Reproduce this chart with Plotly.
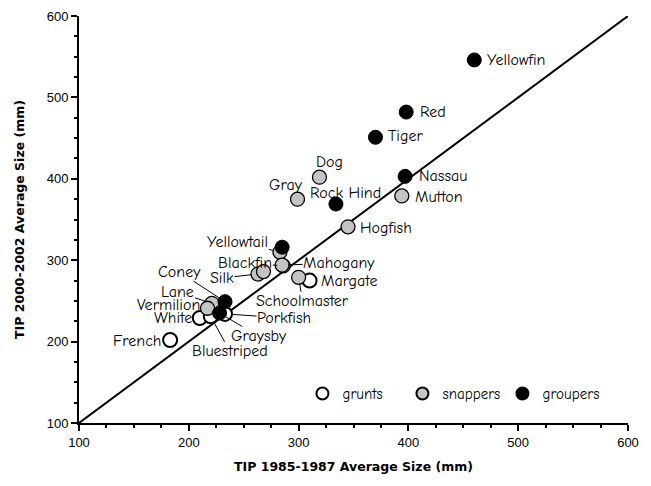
import plotly.graph_objects as go

# --- data (mm) ---
GRUNT_NAMES = ["French", "White", "Bluestriped", "Porkfish", "Margate"]
GRUNT_X = [183, 210, 220, 233, 310]
GRUNT_Y = [202, 229, 231, 234, 275]

SNAPPER_NAMES = ["Gray", "Dog", "Mutton", "Hogfish", "Yellowtail", "Blackfin", "Mahogany",
                 "Silk", "", "Schoolmaster", "Lane", "Vermilion"]
SNAPPER_X = [299, 319, 394, 345, 283, 286, 285, 263, 268, 300, 221, 217]
SNAPPER_Y = [375, 402, 379, 341, 310, 293, 294, 283, 286, 279, 247, 241]

GROUPER_NAMES = ["Yellowfin", "Red", "Tiger", "Nassau", "Rock Hind", "", "Coney", "Graysby"]
GROUPER_X = [460, 398, 370, 397, 334, 285, 233, 228]
GROUPER_Y = [546, 482, 451, 403, 369, 316, 249, 235]

ONE_TO_ONE = [100, 600]

LABEL_FONT = dict(family="Comic Sans MS, Comic Neue, DejaVu Sans", size=16, color="black")
TITLE_FONT = dict(family="Comic Sans MS, DejaVu Sans", size=12.5, color="black")

# label placement: ("side", xshift, yshift, anchor) or ("line", ax, ay) in pixels
LABELS = {
    "Yellowfin": ("side", 11, 0, "left"),
    "Red": ("side", 12, 0, "left"),
    "Tiger": ("side", 11, 1, "left"),
    "Nassau": ("side", 12, 0, "left"),
    "Mutton": ("side", 11, -1, "left"),
    "Hogfish": ("side", 10, -1, "left"),
    "Margate": ("side", 9, 0, "left"),
    "Dog": ("side", 10, 15, "center"),
    "Gray": ("side", -12, 14, "center"),
    "Rock Hind": ("side", 10, 11, "center"),
    "Vermilion": ("side", -5, 3, "right"),
    "White": ("side", -6, 0, "right"),
    "French": ("side", -7, -1, "right"),
    "Yellowtail": ("line", -42, -10),
    "Blackfin": ("line", -38, -3),
    "Mahogany": ("line", 57, -2),
    "Silk": ("line", -36, 4),
    "Schoolmaster": ("line", 4, 24),
    "Coney": ("line", -46, -30),
    "Lane": ("line", -34, -11),
    "Porkfish": ("line", 59, 4),
    "Graysby": ("line", 39, 23),
    "Bluestriped": ("line", 19, 35),
}

fig = go.Figure()

fig.add_trace(go.Scatter(x=ONE_TO_ONE, y=ONE_TO_ONE, mode="lines",
                         line=dict(color="black", width=2), showlegend=False, hoverinfo="skip"))

groups = [
    ("grunts", GRUNT_NAMES, GRUNT_X, GRUNT_Y, "white", 2),
    ("snappers", SNAPPER_NAMES, SNAPPER_X, SNAPPER_Y, "#c4c4c4", 1.3),
    ("groupers", GROUPER_NAMES, GROUPER_X, GROUPER_Y, "black", 1),
]
for name, names, xs, ys, fill, lw in groups:
    fig.add_trace(go.Scatter(
        x=xs, y=ys, mode="markers", name=name, text=names,
        marker=dict(size=14, color=fill, line=dict(color="black", width=lw)),
        hovertemplate="%{text}<br>1985-87: %{x}<br>2000-02: %{y}<extra></extra>",
    ))

for _, names, xs, ys, _, _ in groups:
    for n, x, y in zip(names, xs, ys):
        if n not in LABELS:
            continue
        spec = LABELS[n]
        if spec[0] == "side":
            fig.add_annotation(x=x, y=y, text=n, showarrow=False, font=LABEL_FONT,
                               xanchor=spec[3], yanchor="middle", xshift=spec[1], yshift=spec[2])
        else:
            fig.add_annotation(x=x, y=y, text=n, showarrow=True, arrowhead=0, arrowwidth=1,
                               arrowcolor="black", ax=spec[1], ay=spec[2], standoff=6,
                               font=LABEL_FONT, borderpad=0)

axis_common = dict(
    range=[100, 600], showline=True, linecolor="black", linewidth=2, showgrid=False,
    zeroline=False, ticks="outside", ticklen=6, tickwidth=2, tickcolor="black",
    dtick=100, automargin=False,
    tickfont=dict(family="Liberation Sans, Arial", size=13, color="black"),
    minor=dict(ticks="outside", dtick=25, ticklen=3, tickwidth=1.5, tickcolor="black"),
)
fig.update_xaxes(**axis_common,
                 title=dict(text="<b>TIP 1985-1987 Average Size (mm)</b>", standoff=14,
                            font=TITLE_FONT))
fig.update_yaxes(**axis_common,
                 title=dict(text="<b>TIP 2000-2002 Average Size (mm)</b>", standoff=19,
                            font=TITLE_FONT))

# the page body keeps its 8px default margin, so the figure is sized to fit inside it
fig.update_layout(
    width=643, height=478,
    margin=dict(l=71, r=23, t=8, b=63),
    plot_bgcolor="white", paper_bgcolor="white",
    legend=dict(orientation="h", x=0.407, y=0.072, xanchor="left", yanchor="middle",
                bgcolor="rgba(0,0,0,0)", font=dict(LABEL_FONT, size=15),
                entrywidth=55, entrywidthmode="pixels", itemsizing="constant"),
)

fig.write_html("out.html")
